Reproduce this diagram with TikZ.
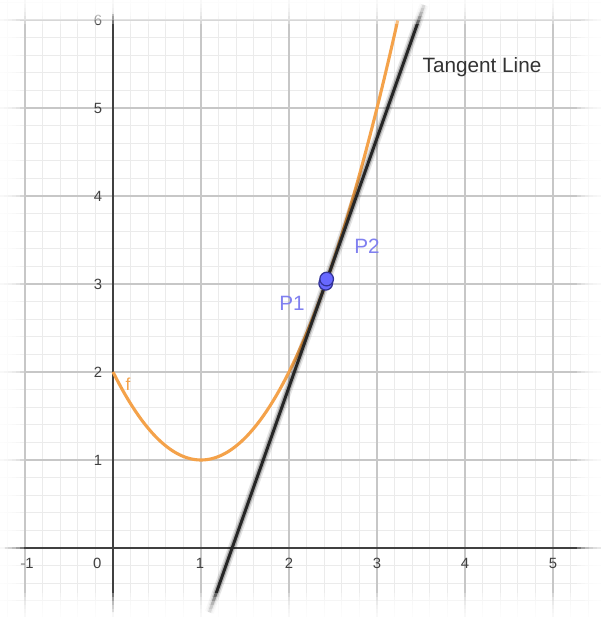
\documentclass[tikz,border=0pt]{standalone}
\usepackage{fontspec}
\setmainfont{Liberation Sans}
\definecolor{fcol}{RGB}{244,162,74}
\definecolor{ptblue}{RGB}{128,128,240}
\definecolor{ptfill}{RGB}{104,104,255}
\definecolor{ptdraw}{RGB}{50,50,150}
\begin{document}
\begin{tikzpicture}[x=1cm,y=1cm,
  minorgrid/.style={draw=black!8, line width=0.3pt},
  majorgrid/.style={draw=black!22, line width=0.45pt},
  axis/.style={draw=black!75, line width=0.65pt},
  ticklabel/.style={font=\fontsize{4.8}{5}\selectfont, text=black!75, inner sep=0pt},
  ptlabel/.style={font=\fontsize{6.7}{8}\selectfont, text=ptblue, inner sep=0pt},
  pt/.style={circle, fill=ptfill, draw=ptdraw, line width=0.4pt, minimum size=0.155cm, inner sep=0pt},
  fcurve/.style={draw=fcol, line width=1pt},
]
\useasboundingbox (-1.284,-0.784) rectangle (5.545,6.227);
\fill[white] (-1.284,-0.784) rectangle (5.545,6.227);
% grid
\draw[minorgrid] (-1.284,-0.784) grid[step=0.2] (5.545,6.227);
\draw[majorgrid] (-1.284,-0.784) grid[step=1] (5.545,6.227);
% axes
\coordinate (xl) at (-1.23,0);
\coordinate (xr) at (5.545,0);
\coordinate (yb) at (0,-0.73);
\coordinate (yt) at (0,6.07);
\draw[axis] (xl) -- (xr);
\draw[axis] (yb) -- (yt);
% tick labels
\node[ticklabel] (xm1) at (-0.977,-0.17) {-1};
\node[ticklabel] (x0) at (-0.18,-0.17) {0};
\node[ticklabel] (x1) at (0.99,-0.17) {1};
\node[ticklabel] (x2) at (2,-0.17) {2};
\node[ticklabel] (x3) at (3,-0.17) {3};
\node[ticklabel] (x4) at (4,-0.17) {4};
\node[ticklabel] (x5) at (5,-0.17) {5};
\node[ticklabel] (y1) at (-0.17,1) {1};
\node[ticklabel] (y2) at (-0.17,2) {2};
\node[ticklabel] (y3) at (-0.17,3) {3};
\node[ticklabel] (y4) at (-0.17,4) {4};
\node[ticklabel] (y5) at (-0.17,5) {5};
\node[ticklabel] (y6) at (-0.17,6) {6};
% function
\draw[fcurve] plot[domain=0:3.236, samples=90] (\x, {(\x-1)^2+1});
\node[font=\fontsize{5.6}{6}\selectfont, text=fcol, inner sep=0pt] (fl) at (0.17,1.86) {f};
% tangent line
\coordinate (tb) at (1.096,-0.73);
\coordinate (tt) at (3.534,6.17);
\draw[black, opacity=0.10, line width=2.8pt] (tb) -- (tt);
\draw[black, opacity=0.22, line width=1.8pt] (tb) -- (tt);
\draw[black!85, line width=0.95pt] (tb) -- (tt);
\node[font=\fontsize{6.7}{8}\selectfont, text=black!80, inner sep=0pt] (TL) at (4.193,5.46) {Tangent Line};
% points
\node[pt] (P1) at (2.417,3.008) {};
\node[pt] (P2) at (2.428,3.056) {};
\node[ptlabel] (L1) at (2.034,2.78) {P1};
\node[ptlabel] (L2) at (2.886,3.432) {P2};
% soft edges
\foreach \d in {0.045,0.09,0.135,0.18,0.225,0.27}{
  \fill[white, opacity=0.3, even odd rule] (-1.284,-0.784) rectangle (5.545,6.227)
    ({-1.284+\d},{-0.784+\d}) rectangle ({5.545-\d},{6.227-\d});
}
\end{tikzpicture}
\end{document}
